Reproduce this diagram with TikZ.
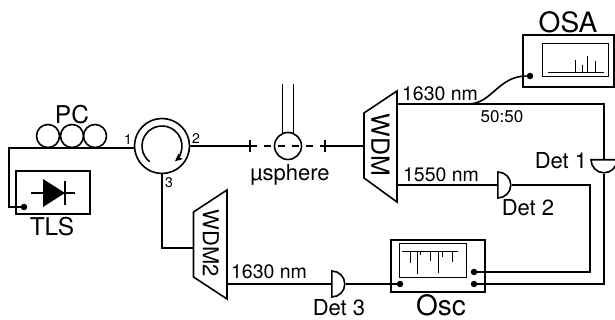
\documentclass[tikz,border=0pt]{standalone}
\usepackage{fontspec}
\setmainfont{TeX Gyre Heros}
\usetikzlibrary{shapes.geometric,arrows.meta}
\tikzset{
	fibre/.style={line width=1.6pt},
	thinline/.style={line width=1pt},
	box/.style={shape=rectangle, draw, line width=1.6pt, inner sep=0},
	screen/.style={shape=rectangle, draw, line width=1pt, inner sep=0},
	dot/.style={shape=circle, fill, minimum size=6.5pt, inner sep=0},
	wdmtext/.style={rotate=-90, inner sep=0},
	detector/.style={semicircle, draw, line width=1.6pt, inner sep=0, minimum width=26pt, anchor=chord center},
	huge label/.style={inner sep=0, font=\fontsize{28}{30}\selectfont},
	big label/.style={inner sep=0, font=\fontsize{24.5}{26}\selectfont},
	mid label/.style={inner sep=0, font=\fontsize{22}{24}\selectfont},
	nm label/.style={inner sep=0, font=\fontsize{19.5}{22}\selectfont},
	small label/.style={inner sep=0, font=\fontsize{17}{19}\selectfont},
	port label/.style={inner sep=0, font=\fontsize{14}{16}\selectfont}
}
\begin{document}
\begin{tikzpicture}[x=1pt,y=1pt]
	\useasboundingbox (0,0) rectangle (615,320);

	% source and polarisation
	\node[box, minimum width=74pt, minimum height=43pt] (tls) at (53,127.5) {};
	\node[dot] (tlsdot) at (24,113) {};
	\node[big label] (tlstext) at (52,93) {TLS};
	\fill (43,141) -- (65,127) -- (43,113) -- cycle;
	\draw[fibre] (31,127) -- (75,127);
	\draw[fibre] (65,139) -- (65,115);
	\foreach \name/\x in {pca/48,pcb/72,pcc/95}
		\node[shape=circle, draw, line width=1.6pt, minimum size=23pt, inner sep=0] (\name) at (\x,184) {};
	\node[big label] (pctext) at (72,205) {PC};

	% circulator
	\node[shape=circle, draw, line width=1.6pt, minimum size=55pt, inner sep=0] (circ) at (162,174) {};
	\draw[fibre, -{Stealth[length=8pt,width=7pt]}] (circ.center) ++(232:20) arc[start angle=232, end angle=-50, radius=20];
	\node[port label] (portone) at (128,180) {1};
	\node[port label] (porttwo) at (196,181) {2};
	\node[port label] (portthree) at (169,137) {3};
	\coordinate (bend) at (9,172);
	\draw[fibre] (tlsdot) -| (bend) -- (bend -| circ.west);

	% microsphere
	\coordinate (tickl) at (250,174);
	\coordinate (tickr) at (325,174);
	\node[shape=circle, draw, line width=1.6pt, minimum size=27pt, inner sep=0] (sphere) at (288,174) {};
	\node[mid label] (spheretext) at (290,145) {µsphere};
	\draw[fibre] (sphere.112) -- ++(0,49);
	\draw[fibre] (sphere.68) -- ++(0,49);
	\draw[fibre, dash pattern=on 7pt off 7pt] (tickl) -- (tickr);
	\draw[fibre] ([yshift=6pt]tickl) -- ([yshift=-6pt]tickl);
	\draw[fibre] ([yshift=6pt]tickr) -- ([yshift=-6pt]tickr);
	\draw[fibre] (circ.east) -- (tickl);

	% demultiplexers
	\draw[fibre] (364,207) -- (397,229) -- (397,118) -- (364,142) -- cycle;
	\draw[fibre] (193.5,108) -- (227,130) -- (227,21) -- (193.5,43) -- cycle;
	\node[wdmtext, font=\fontsize{25}{25}\selectfont] (wdm) at (380.5,175) {WDM};
	\node[wdmtext, font=\fontsize{22}{22}\selectfont] (wdmtwo) at (211,77) {WDM2};
	\coordinate (wdmin) at (364,174);
	\coordinate (wdmup) at (397,216);
	\coordinate (wdmlow) at (397,135);
	\coordinate (wdmtwoin) at (193.5,72);
	\coordinate (wdmtwoout) at (227,36);
	\draw[fibre] (tickr) -- (wdmin);
	\draw[fibre] (circ.south) |- (wdmtwoin);
	\node[nm label] (uptext) at (440,226) {1630 nm};
	\node[nm label] (lowtext) at (441,145) {1550 nm};
	\node[nm label] (twotext) at (269,48) {1630 nm};

	% detectors
	\node[detector, rotate=180] (detone) at (604,161) {};
	\node[detector, rotate=-90] (dettwo) at (497,135) {};
	\node[detector, rotate=-90] (detthree) at (331,36) {};
	\node[mid label] (detonetext) at (561,159) {Det 1};
	\node[mid label] (dettwotext) at (528,112) {Det 2};
	\node[mid label] (detthreetext) at (339,12) {Det 3};

	% OSA
	\node[box, minimum width=91pt, minimum height=52pt] (osa) at (568.5,259) {};
	\node[screen, minimum width=66pt, minimum height=33pt] (osascreen) at (575,259.5) {};
	\node[huge label] (osatext) at (568,298) {OSA};
	\node[dot] (osadot) at (530,244) {};
	\draw[thinline] (548,247) -- (604,247);
	\foreach \x/\y in {575/260,582/255,587/264,595/259}
		\draw[thinline] (\x,247) -- (\x,\y);
	\node[small label] (splittext) at (502,203) {50:50};

	% oscilloscope
	\node[box, minimum width=94pt, minimum height=52pt] (osc) at (438,54) {};
	\node[screen, minimum width=67pt, minimum height=34pt] (oscscreen) at (432.5,59) {};
	\node[huge label] (osctext) at (441,15) {Osc};
	\node[dot] (osca) at (400,36) {};
	\node[dot] (oscb) at (474,36) {};
	\node[dot] (oscc) at (474,48) {};
	\draw[thinline] (402,68) -- (458,68);
	\foreach \x/\y in {410/57,417/46,420/65,430/59,438/47,442/63,452/58}
		\draw[thinline] (\x,68) -- (\x,\y);

	% fibres to the instruments
	\coordinate (bendtwo) at (590,135);
	\draw[fibre] (wdmup) -| (detone.chord center);
	\draw[fibre] (468,216) .. controls (492,216) and (498,244) .. (osadot);
	\draw[fibre] (wdmlow) -- (dettwo.chord center);
	\draw[fibre] (dettwo.apex) -- (bendtwo) |- (oscc);
	\draw[fibre] (detone.apex) |- (oscb);
	\draw[fibre] (wdmtwoout) -- (detthree.chord center);
	\draw[fibre] (detthree.apex) -- (osca);
\end{tikzpicture}
\end{document}
